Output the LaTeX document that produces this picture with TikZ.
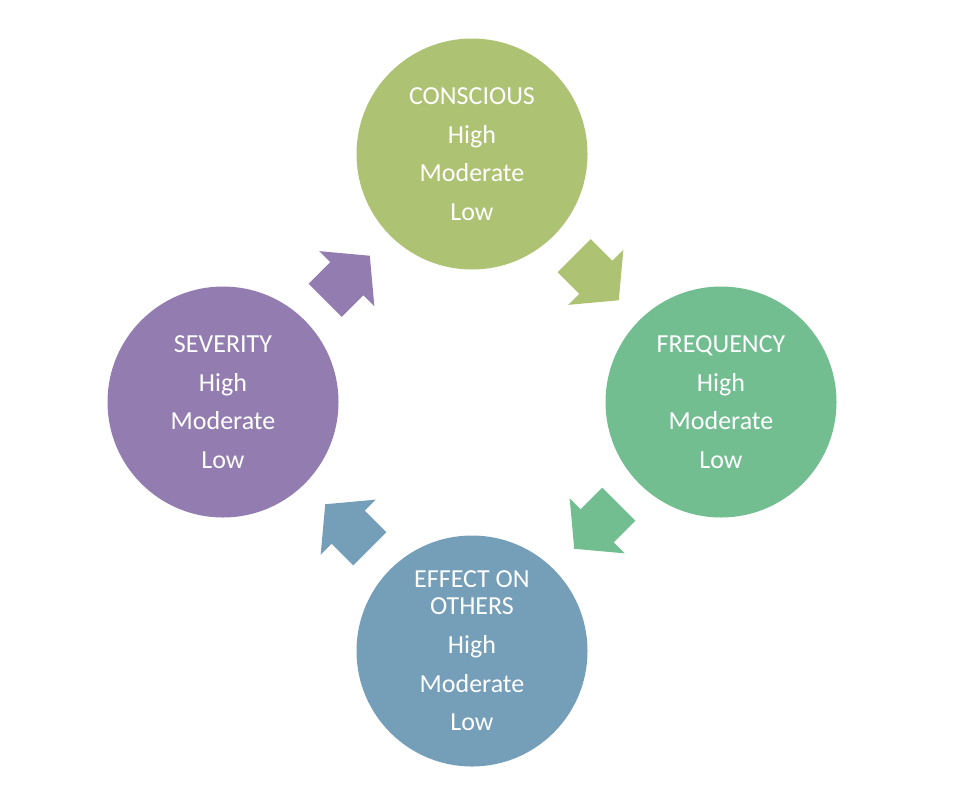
\documentclass[tikz,border=0pt]{standalone}
\usepackage{fontspec}
\setmainfont{Carlito}
\usetikzlibrary{calc}
\definecolor{cgreen}{HTML}{ADC273}
\definecolor{cteal}{HTML}{72BE91}
\definecolor{cblue}{HTML}{759EB8}
\definecolor{cpurple}{HTML}{937DB0}
\newcommand\blockarrow[3]{%
  \fill[#3, shift={(#1)}, rotate=#2] (-31.5,-23.5) -- (-1,-23.5) -- (-1,-39) -- (31.5,0) -- (-1,39) -- (-1,23.5) -- (-31.5,23.5) -- cycle;}
\begin{document}
\begin{tikzpicture}[x=0.75pt,y=-0.75pt,
  bubble/.style={circle, minimum size=173.25pt, inner sep=0pt, align=center, text=white,
    font=\fontsize{19.5}{29}\selectfont}]
\useasboundingbox (0,0) rectangle (964,800);
\node[bubble, fill=cgreen]  (top)    at (472,154) {CONSCIOUS\\High\\Moderate\\Low};
\node[bubble, fill=cteal]   (right)  at (721,402) {FREQUENCY\\High\\Moderate\\Low};
\node[bubble, fill=cblue]   (bottom) at (472,651) {EFFECT ON\\[-8.75pt]OTHERS\\High\\Moderate\\Low};
\node[bubble, fill=cpurple] (left)   at (223,402) {SEVERITY\\High\\Moderate\\Low};
\coordinate (a1) at ($(top)!0.5!(right)$);
\coordinate (a2) at ($(right)!0.5!(bottom)$);
\coordinate (a3) at ($(bottom)!0.5!(left)$);
\coordinate (a4) at ($(left)!0.5!(top)$);
\blockarrow{a1}{-45}{cgreen}
\blockarrow{a2}{-135}{cteal}
\blockarrow{a3}{135}{cblue}
\blockarrow{a4}{45}{cpurple}
\end{tikzpicture}
\end{document}
